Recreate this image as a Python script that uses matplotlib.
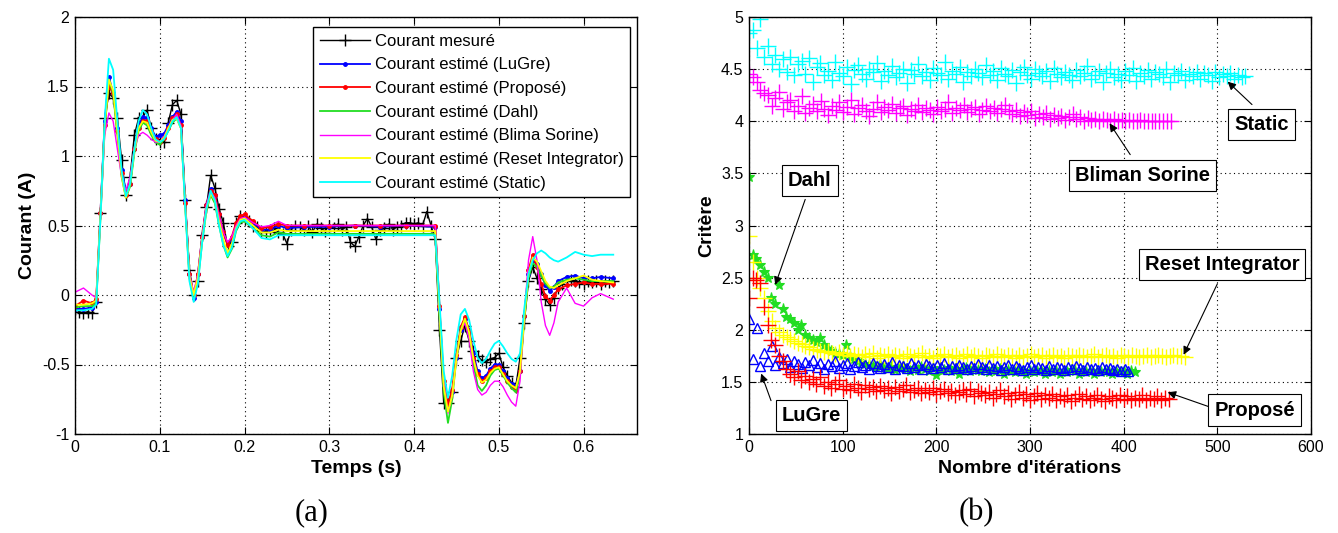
import numpy as np
import matplotlib.pyplot as plt

plt.rcParams['font.family'] = ['Liberation Sans', 'DejaVu Sans']

# ---------------- (a) courant mesuré / estimé ----------------
# measured current, one sample every 5 ms from 0 to 0.635 s
i_mes = [-0.10, -0.12, -0.13, -0.12, -0.13, -0.05, 0.59, 1.27, 1.45, 1.42,
         1.27, 0.97, 0.72, 0.85, 1.15, 1.27, 1.28, 1.33, 1.20, 1.12,
         1.10, 1.10, 1.24, 1.37, 1.40, 1.30, 0.68, 0.18, 0.00, 0.10,
         0.43, 0.63, 0.86, 0.77, 0.62, 0.52, 0.35, 0.38, 0.52, 0.57,
         0.55, 0.53, 0.50, 0.49, 0.46, 0.45, 0.47, 0.48, 0.45, 0.44,
         0.37, 0.47, 0.50, 0.49, 0.47, 0.50, 0.45, 0.51, 0.48, 0.46,
         0.50, 0.48, 0.51, 0.47, 0.49, 0.38, 0.35, 0.42, 0.50, 0.55,
         0.49, 0.40, 0.47, 0.48, 0.51, 0.47, 0.49, 0.50, 0.52, 0.52,
         0.51, 0.52, 0.50, 0.60, 0.50, 0.40, -0.25, -0.78, -0.78, -0.70,
         -0.45, -0.33, -0.22, -0.33, -0.40, -0.44, -0.47, -0.48, -0.46, -0.45,
         -0.42, -0.52, -0.58, -0.63, -0.66, -0.45, -0.20, 0.10, 0.20, 0.12,
         0.04, -0.03, -0.07, -0.02, 0.05, 0.08, 0.10, 0.11, 0.10, 0.09,
         0.08, 0.10, 0.09, 0.10, 0.08, 0.10, 0.09, 0.10]
t_mes = np.linspace(0, 0.635, len(i_mes))

t_est = [0, 0.01, 0.02, 0.025, 0.03, 0.035, 0.04, 0.045, 0.05, 0.055,
         0.06, 0.065, 0.07, 0.075, 0.08, 0.085, 0.09, 0.095, 0.10, 0.105,
         0.11, 0.115, 0.12, 0.125, 0.13, 0.135, 0.14, 0.145, 0.15, 0.155,
         0.16, 0.165, 0.17, 0.175, 0.18, 0.185, 0.19, 0.195, 0.20, 0.21,
         0.22, 0.23, 0.24, 0.25, 0.27, 0.30, 0.33, 0.36, 0.39, 0.425,
         0.43, 0.435, 0.44, 0.445, 0.45, 0.455, 0.46, 0.465, 0.47, 0.475,
         0.48, 0.485, 0.49, 0.495, 0.50, 0.505, 0.51, 0.515, 0.52, 0.525,
         0.53, 0.535, 0.54, 0.545, 0.55, 0.555, 0.56, 0.565, 0.57, 0.58,
         0.59, 0.60, 0.61, 0.62, 0.635]

i_lugre = [-0.10, -0.10, -0.09, -0.05, 0.59, 1.25, 1.57, 1.45, 1.20, 0.90,
           0.75, 0.80, 1.05, 1.22, 1.28, 1.27, 1.20, 1.14, 1.15, 1.16,
           1.22, 1.28, 1.32, 1.25, 0.68, 0.15, -0.02, 0.15, 0.42, 0.65,
           0.76, 0.72, 0.58, 0.45, 0.36, 0.40, 0.50, 0.55, 0.56, 0.52,
           0.47, 0.47, 0.50, 0.48, 0.49, 0.49, 0.50, 0.49, 0.50, 0.49,
           -0.10, -0.65, -0.82, -0.70, -0.45, -0.25, -0.17, -0.25, -0.42, -0.55,
           -0.60, -0.58, -0.53, -0.50, -0.50, -0.55, -0.60, -0.64, -0.66, -0.55,
           -0.15, 0.15, 0.25, 0.22, 0.15, 0.07, 0.03, 0.06, 0.10, 0.13,
           0.14, 0.12, 0.12, 0.13, 0.12]

i_propose = [-0.08, -0.04, -0.06, -0.03, 0.59, 1.22, 1.50, 1.45, 1.18, 0.88,
             0.72, 0.80, 1.05, 1.20, 1.25, 1.25, 1.18, 1.12, 1.10, 1.13,
             1.20, 1.27, 1.30, 1.22, 0.66, 0.15, 0.00, 0.15, 0.42, 0.65,
             0.75, 0.72, 0.58, 0.45, 0.36, 0.42, 0.52, 0.57, 0.58, 0.53,
             0.48, 0.49, 0.51, 0.50, 0.50, 0.50, 0.50, 0.50, 0.50, 0.50,
             -0.08, -0.62, -0.78, -0.68, -0.43, -0.23, -0.16, -0.26, -0.45, -0.57,
             -0.62, -0.60, -0.55, -0.52, -0.52, -0.57, -0.62, -0.66, -0.68, -0.55,
             -0.15, 0.18, 0.29, 0.20, 0.08, -0.01, -0.04, 0.00, 0.04, 0.07,
             0.08, 0.09, 0.08, 0.08, 0.08]

i_dahl = [-0.09, -0.08, -0.08, -0.06, 0.55, 1.20, 1.55, 1.45, 1.15, 0.85,
          0.70, 0.78, 1.02, 1.18, 1.24, 1.22, 1.15, 1.10, 1.08, 1.12,
          1.18, 1.24, 1.27, 1.20, 0.65, 0.12, -0.03, 0.10, 0.38, 0.60,
          0.72, 0.66, 0.50, 0.36, 0.27, 0.33, 0.46, 0.52, 0.53, 0.48,
          0.43, 0.42, 0.45, 0.44, 0.44, 0.44, 0.44, 0.44, 0.44, 0.44,
          -0.15, -0.70, -0.92, -0.75, -0.45, -0.25, -0.18, -0.30, -0.50, -0.65,
          -0.69, -0.65, -0.58, -0.54, -0.53, -0.58, -0.63, -0.67, -0.70, -0.58,
          -0.18, 0.12, 0.23, 0.20, 0.14, 0.08, 0.05, 0.06, 0.09, 0.11,
          0.12, 0.11, 0.10, 0.10, 0.10]

i_bliman = [0.02, 0.05, 0.00, -0.02, 0.55, 1.15, 1.31, 1.25, 1.05, 0.85,
            0.75, 0.85, 1.05, 1.15, 1.17, 1.15, 1.12, 1.10, 1.10, 1.14,
            1.20, 1.26, 1.30, 1.22, 0.66, 0.15, 0.02, 0.15, 0.42, 0.65,
            0.74, 0.70, 0.57, 0.45, 0.38, 0.42, 0.50, 0.55, 0.56, 0.52,
            0.49, 0.50, 0.53, 0.50, 0.50, 0.50, 0.50, 0.50, 0.50, 0.50,
            -0.10, -0.62, -0.85, -0.72, -0.45, -0.26, -0.20, -0.32, -0.55, -0.68,
            -0.72, -0.70, -0.65, -0.62, -0.62, -0.66, -0.72, -0.77, -0.80, -0.62,
            -0.15, 0.25, 0.42, 0.25, -0.05, -0.22, -0.29, -0.20, -0.05, 0.05,
            -0.06, -0.08, -0.02, 0.01, -0.03]

i_reset = [-0.07, -0.07, -0.06, -0.04, 0.57, 1.22, 1.55, 1.47, 1.18, 0.86,
           0.70, 0.80, 1.04, 1.20, 1.25, 1.24, 1.17, 1.11, 1.10, 1.13,
           1.20, 1.26, 1.27, 1.20, 0.64, 0.13, 0.00, 0.13, 0.40, 0.62,
           0.73, 0.68, 0.53, 0.40, 0.30, 0.37, 0.48, 0.54, 0.55, 0.50,
           0.45, 0.45, 0.47, 0.46, 0.46, 0.46, 0.46, 0.46, 0.46, 0.46,
           -0.12, -0.66, -0.84, -0.72, -0.46, -0.26, -0.17, -0.27, -0.46, -0.58,
           -0.63, -0.61, -0.56, -0.53, -0.52, -0.57, -0.62, -0.65, -0.67, -0.55,
           -0.16, 0.15, 0.27, 0.24, 0.17, 0.10, 0.06, 0.05, 0.07, 0.10,
           0.12, 0.14, 0.11, 0.10, 0.09]

i_static = [-0.11, -0.11, -0.10, -0.07, 0.55, 1.25, 1.70, 1.62, 1.25, 0.90,
            0.71, 0.80, 1.05, 1.25, 1.33, 1.30, 1.20, 1.12, 1.10, 1.12,
            1.18, 1.25, 1.28, 1.20, 0.63, 0.10, -0.05, 0.08, 0.38, 0.62,
            0.75, 0.68, 0.50, 0.36, 0.28, 0.34, 0.47, 0.53, 0.54, 0.48,
            0.41, 0.40, 0.43, 0.43, 0.43, 0.43, 0.43, 0.43, 0.43, 0.43,
            -0.05, -0.55, -0.74, -0.58, -0.32, -0.14, -0.10, -0.18, -0.33, -0.45,
            -0.49, -0.46, -0.40, -0.35, -0.33, -0.37, -0.42, -0.46, -0.48, -0.42,
            -0.10, 0.15, 0.25, 0.30, 0.32, 0.30, 0.27, 0.25, 0.24, 0.27,
            0.31, 0.29, 0.28, 0.29, 0.29]

labels_a = ['Courant mesuré', 'Courant estimé (LuGre)', 'Courant estimé (Proposé)',
            'Courant estimé (Dahl)', 'Courant estimé (Blima Sorine)',
            'Courant estimé (Reset Integrator)', 'Courant estimé (Static)']
xticks_a = [0, 0.1, 0.2, 0.3, 0.4, 0.5, 0.6]
xticklabels_a = ['0', '0.1', '0.2', '0.3', '0.4', '0.5', '0.6']
yticks_a = [-1, -0.5, 0, 0.5, 1, 1.5, 2]
yticklabels_a = ['-1', '-0.5', '0', '0.5', '1', '1.5', '2']

# ---------------- (b) critère vs itérations ----------------
c_static = [4.85, 4.88, 4.70, 4.98, 4.62, 4.72, 4.55, 4.64, 4.50, 4.60,
            4.47, 4.62, 4.44, 4.55, 4.58, 4.45, 4.61, 4.38, 4.52, 4.56,
            4.44, 4.48, 4.40, 4.57, 4.46, 4.43, 4.52, 4.36, 4.49, 4.54,
            4.45, 4.41, 4.50, 4.47, 4.56, 4.39, 4.48, 4.44, 4.53, 4.42,
            4.46, 4.50, 4.37, 4.49, 4.45, 4.55, 4.43, 4.47, 4.40, 4.51,
            4.46, 4.44, 4.57, 4.41, 4.48, 4.45, 4.52, 4.38, 4.47, 4.43,
            4.50, 4.46, 4.42, 4.54, 4.44, 4.48, 4.40, 4.51, 4.45, 4.43,
            4.49, 4.37, 4.47, 4.52, 4.44, 4.41, 4.50, 4.46, 4.43, 4.48,
            4.39, 4.51, 4.45, 4.42, 4.47, 4.44, 4.40, 4.49, 4.43, 4.46,
            4.53, 4.41, 4.44, 4.48, 4.38, 4.46, 4.50, 4.42, 4.45, 4.40,
            4.48, 4.44, 4.51, 4.39, 4.46, 4.43, 4.49, 4.41, 4.47, 4.45,
            4.42, 4.50, 4.38, 4.46, 4.44, 4.48, 4.40, 4.45, 4.43, 4.47,
            4.41, 4.46, 4.44, 4.39, 4.47, 4.42, 4.45, 4.43, 4.46, 4.41,
            4.44, 4.42, 4.43]
c_bliman = [4.45, 4.42, 4.38, 4.30, 4.27, 4.25, 4.15, 4.22, 4.28, 4.12,
            4.18, 4.20, 4.10, 4.15, 4.24, 4.08, 4.13, 4.17, 4.10, 4.19,
            4.12, 4.06, 4.15, 4.11, 4.18, 4.09, 4.14, 4.20, 4.07, 4.13,
            4.16, 4.10, 4.05, 4.12, 4.18, 4.09, 4.14, 4.11, 4.17, 4.08,
            4.13, 4.15, 4.06, 4.12, 4.10, 4.16, 4.09, 4.13, 4.11, 4.07,
            4.14, 4.10, 4.12, 4.18, 4.08, 4.13, 4.11, 4.16, 4.09, 4.12,
            4.14, 4.07, 4.11, 4.15, 4.10, 4.13, 4.08, 4.12, 4.16, 4.10,
            4.07, 4.11, 4.05, 4.09, 4.06, 4.10, 4.03, 4.07, 4.04, 4.08,
            4.02, 4.06, 4.03, 4.05, 4.01, 4.04, 4.07, 4.02, 4.04, 4.00,
            4.03, 4.01, 4.02, 4.00, 4.02, 4.01, 4.00, 4.02, 4.00, 4.01,
            4.00, 4.01, 4.00, 4.00, 4.01, 4.00, 4.00, 4.00, 4.00, 4.00,
            4.00, 4.00, 4.00]
c_dahl = [3.47, 2.72, 2.68, 2.62, 2.55, 2.50, 2.30, 2.25, 2.43, 2.20,
          2.12, 2.10, 2.06, 2.00, 2.05, 1.95, 1.92, 1.90, 1.88, 1.92,
          1.85, 1.82, 1.80, 1.78, 1.77, 1.76, 1.85, 1.74, 1.72, 1.70,
          1.68, 1.67, 1.66, 1.65, 1.64, 1.66, 1.63, 1.62, 1.64, 1.61,
          1.63, 1.65, 1.62, 1.60, 1.63, 1.61, 1.64, 1.62, 1.60, 1.63,
          1.57, 1.62, 1.61, 1.63, 1.60, 1.62, 1.58, 1.61, 1.63, 1.60,
          1.62, 1.61, 1.60, 1.62, 1.59, 1.61, 1.60, 1.62, 1.58, 1.61,
          1.60, 1.59, 1.61, 1.60, 1.58, 1.60, 1.59, 1.60, 1.61, 1.58,
          1.60, 1.59, 1.60, 1.58, 1.60, 1.59, 1.61, 1.60, 1.58, 1.60,
          1.59, 1.60, 1.58, 1.60, 1.59, 1.60, 1.59, 1.58, 1.60, 1.59,
          1.60, 1.58, 1.60, 1.59]
c_reset = [2.90, 2.65, 2.50, 2.40, 2.30, 2.18, 2.08, 2.02, 1.98, 1.95,
           1.93, 1.91, 1.89, 1.87, 1.86, 1.84, 1.83, 1.82, 1.81, 1.80,
           1.79, 1.80, 1.78, 1.77, 1.79, 1.76, 1.78, 1.75, 1.77, 1.76,
           1.74, 1.77, 1.75, 1.78, 1.73, 1.76, 1.75, 1.77, 1.74, 1.76,
           1.75, 1.73, 1.77, 1.75, 1.74, 1.76, 1.78, 1.74, 1.75, 1.73,
           1.76, 1.75, 1.77, 1.74, 1.75, 1.76, 1.73, 1.75, 1.77, 1.74,
           1.76, 1.75, 1.73, 1.76, 1.75, 1.74, 1.77, 1.75, 1.74, 1.76,
           1.75, 1.73, 1.76, 1.74, 1.75, 1.77, 1.74, 1.75, 1.76, 1.73,
           1.75, 1.76, 1.74, 1.75, 1.73, 1.76, 1.75, 1.74, 1.76, 1.75,
           1.74, 1.75, 1.77, 1.74, 1.75, 1.76, 1.74, 1.75, 1.73, 1.76,
           1.75, 1.74, 1.76, 1.75, 1.74, 1.75, 1.76, 1.74, 1.75, 1.76,
           1.75, 1.74, 1.75, 1.76, 1.75, 1.75, 1.74]
c_lugre = [2.10, 1.72, 2.02, 1.65, 1.78, 1.70, 1.84, 1.66, 1.74, 1.68,
           1.72, 1.64, 1.70, 1.67, 1.63, 1.69, 1.66, 1.71, 1.64, 1.68,
           1.62, 1.67, 1.65, 1.70, 1.63, 1.66, 1.68, 1.62, 1.65, 1.69,
           1.64, 1.66, 1.62, 1.68, 1.65, 1.63, 1.67, 1.64, 1.69, 1.62,
           1.66, 1.65, 1.63, 1.68, 1.64, 1.66, 1.62, 1.67, 1.65, 1.63,
           1.66, 1.64, 1.68, 1.62, 1.65, 1.63, 1.66, 1.64, 1.62, 1.65,
           1.63, 1.67, 1.64, 1.62, 1.66, 1.63, 1.65, 1.61, 1.64, 1.66,
           1.62, 1.65, 1.63, 1.61, 1.64, 1.66, 1.62, 1.64, 1.63, 1.61,
           1.65, 1.62, 1.64, 1.63, 1.61, 1.64, 1.62, 1.65, 1.63, 1.61,
           1.64, 1.62, 1.63, 1.61, 1.64, 1.62, 1.63, 1.61, 1.62, 1.60,
           1.62, 1.60]
c_propose = [2.30, 2.50, 2.48, 2.45, 2.22, 2.05, 1.90, 1.85, 1.75, 1.70,
             1.62, 1.58, 1.55, 1.60, 1.52, 1.56, 1.50, 1.53, 1.48, 1.55,
             1.46, 1.50, 1.44, 1.48, 1.52, 1.43, 1.46, 1.42, 1.48, 1.44,
             1.40, 1.47, 1.43, 1.45, 1.41, 1.46, 1.42, 1.44, 1.39, 1.45,
             1.41, 1.43, 1.47, 1.40, 1.42, 1.44, 1.39, 1.42, 1.40, 1.44,
             1.38, 1.41, 1.43, 1.39, 1.41, 1.37, 1.40, 1.42, 1.38, 1.43,
             1.36, 1.41, 1.39, 1.37, 1.40, 1.35, 1.38, 1.42, 1.36, 1.39,
             1.34, 1.37, 1.40, 1.35, 1.38, 1.33, 1.36, 1.39, 1.34, 1.37,
             1.35, 1.38, 1.33, 1.36, 1.34, 1.37, 1.32, 1.35, 1.38, 1.34,
             1.36, 1.33, 1.35, 1.37, 1.34, 1.32, 1.36, 1.35, 1.33, 1.37,
             1.34, 1.36, 1.33, 1.35, 1.34, 1.37, 1.33, 1.35, 1.34, 1.36,
             1.33, 1.35, 1.34]
# last iteration of each run
n_static, n_bliman, n_dahl, n_reset, n_lugre, n_propose = 530, 450, 412, 465, 405, 448

# text boxes: label, box centre, arrow start, arrow tip
notes_b = [
    ('Static', (547, 3.97), (537, 4.16), (511, 4.38)),
    ('Bliman Sorine', (420, 3.48), (407, 3.68), (385, 3.98)),
    ('Dahl', (65, 3.43), (60, 3.25), (28, 2.43)),
    ('Reset Integrator', (505, 2.63), (500, 2.44), (464, 1.76)),
    ('Proposé', (540, 1.23), (498, 1.24), (447, 1.40)),
    ('LuGre', (67, 1.175), (23.5, 1.32), (13, 1.58)),
]
xticks_b = [0, 100, 200, 300, 400, 500, 600]
yticks_b = [1, 1.5, 2, 2.5, 3, 3.5, 4, 4.5, 5]
yticklabels_b = ['1', '1.5', '2', '2.5', '3', '3.5', '4', '4.5', '5']

green = '#22dd22'

fig = plt.figure(figsize=(13.38, 5.33), dpi=100)
ax1 = fig.add_axes([75 / 1338, 99 / 533, 562 / 1338, 417 / 533])
ax2 = fig.add_axes([749 / 1338, 99 / 533, 562 / 1338, 417 / 533])

ax1.plot(t_mes, i_mes, color='k', lw=1.0, marker='+', ms=9, mew=1.0, label=labels_a[0])
ax1.plot(t_est, i_lugre, color='#0000ff', lw=1.3, marker='.', ms=5, label=labels_a[1])
ax1.plot(t_est, i_propose, color='#ff0000', lw=1.3, marker='.', ms=5, label=labels_a[2])
ax1.plot(t_est, i_dahl, color=green, lw=1.3, label=labels_a[3])
ax1.plot(t_est, i_bliman, color='#ff00ff', lw=1.0, label=labels_a[4])
ax1.plot(t_est, i_reset, color='#ffff00', lw=1.3, label=labels_a[5])
ax1.plot(t_est, i_static, color='#00ffff', lw=1.3, label=labels_a[6])

ax1.set_xlim(0, 0.663)
ax1.set_ylim(-1, 2)
ax1.set_xticks(xticks_a)
ax1.set_xticklabels(xticklabels_a)
ax1.set_yticks(yticks_a)
ax1.set_yticklabels(yticklabels_a)
ax1.set_xlabel('Temps (s)', fontsize=14, fontweight='bold', labelpad=4)
ax1.set_ylabel('Courant (A)', fontsize=14, fontweight='bold', labelpad=4)
leg = ax1.legend(loc='upper right', bbox_to_anchor=(0.988, 0.976), fontsize=12,
                 fancybox=False, framealpha=1, edgecolor='k', handlelength=3.0,
                 handletextpad=0.3, labelspacing=0.52, borderpad=0.4,
                 borderaxespad=0)
leg.get_frame().set_linewidth(1.0)

ax2.plot(np.linspace(0, n_static, len(c_static)), c_static, ls='none', marker='+',
         ms=11, mew=1.0, color='#00ffff')
ax2.plot(np.linspace(0, n_bliman, len(c_bliman)), c_bliman, ls='none', marker='+',
         ms=11, mew=1.0, color='#ff00ff')
ax2.plot(np.linspace(0, n_dahl, len(c_dahl)), c_dahl, ls='none', marker='*',
         ms=8, mew=0.8, color=green)
ax2.plot(np.linspace(0, n_reset, len(c_reset)), c_reset, ls='none', marker='+',
         ms=11, mew=1.0, color='#ffff00')
ax2.plot(np.linspace(0, n_lugre, len(c_lugre)), c_lugre, ls='none', marker='^',
         ms=7, mew=1.0, mfc='none', color='#0000ff')
ax2.plot(np.linspace(0, n_propose, len(c_propose)), c_propose, ls='none', marker='+',
         ms=11, mew=1.0, color='#ff0000')

for txt, centre, start, tip in notes_b:
    ax2.annotate('', xy=tip, xytext=start,
                 arrowprops=dict(arrowstyle='-|>', color='k', lw=0.8,
                                 mutation_scale=12, shrinkA=0, shrinkB=0))
    ax2.text(centre[0], centre[1], txt, ha='center', va='center', fontsize=14.5,
             fontweight='bold',
             bbox=dict(boxstyle='square,pad=0.3', fc='white', ec='k', lw=0.8))

ax2.set_xlim(0, 600)
ax2.set_ylim(1, 5)
ax2.set_xticks(xticks_b)
ax2.set_yticks(yticks_b)
ax2.set_yticklabels(yticklabels_b)
ax2.set_xlabel("Nombre d'itérations", fontsize=14, fontweight='bold', labelpad=4)
ax2.set_ylabel('Critère', fontsize=14, fontweight='bold', labelpad=4)

for ax in (ax1, ax2):
    ax.grid(True, linestyle=(0, (1, 3)), color='k', linewidth=0.8)
    ax.tick_params(direction='in', top=True, right=True, length=5, width=0.8,
                   labelsize=11.5, pad=4)
    for sp in ax.spines.values():
        sp.set_linewidth(1.0)

fig.text(312 / 1338, 1 - 513 / 533, '(a)', ha='center', va='center', fontsize=22,
         family='Liberation Serif')
fig.text(976 / 1338, 1 - 513 / 533, '(b)', ha='center', va='center', fontsize=22,
         family='Liberation Serif')

fig.savefig('out.png', dpi=100)
